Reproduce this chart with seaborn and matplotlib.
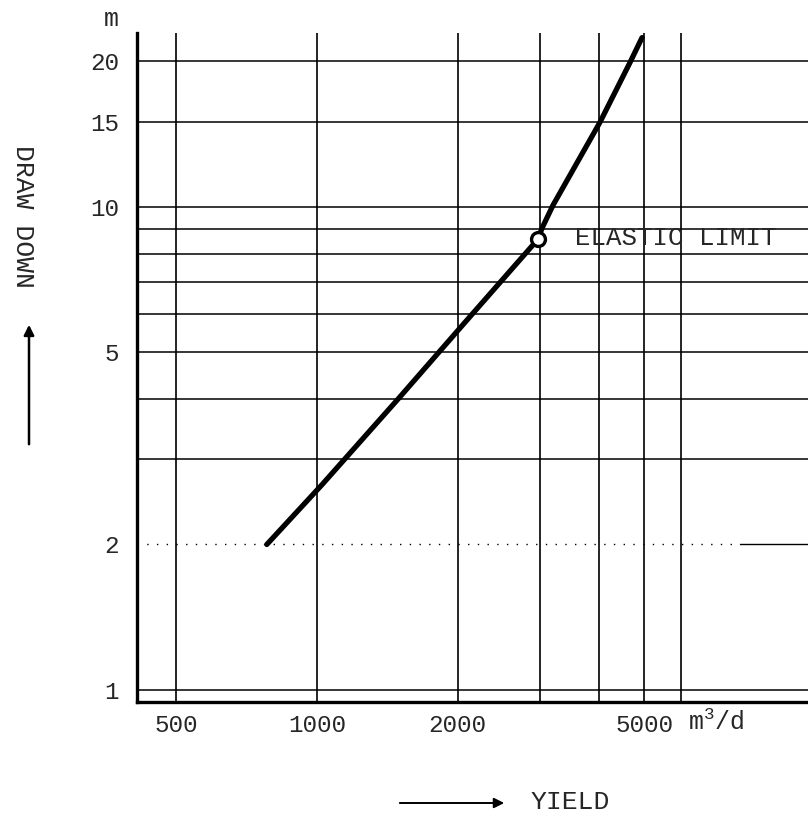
import matplotlib
matplotlib.use("Agg")
import matplotlib.pyplot as plt
import matplotlib.ticker as mticker
import seaborn as sns
import pandas as pd

# ---- data ----
yield_m3d = [782, 1026, 1498, 2022, 2968, 3027, 3196, 4025, 4667, 4951]
drawdown_m = [2.0, 2.66, 4.02, 5.61, 8.57, 9.03, 10.08, 14.96, 19.9, 22.4]
elastic_yield = [2968]
elastic_draw = [8.57]

x_grid = [500, 1000, 2000, 3000, 4000, 5000, 6000]
x_tick_vals = [500, 1000, 2000, 5000]
x_tick_labels = ["500", "1000", "2000", "5000"]
y_grid = [1, 3, 4, 5, 6, 7, 8, 9, 10, 15, 20]
y_dotted = [2]
y_tick_vals = [1, 2, 5, 10, 15, 20]
y_tick_labels = ["1", "2", "5", "10", "15", "20"]

sns.set_style("white")
plt.rcParams["font.family"] = ["Liberation Mono", "DejaVu Sans Mono"]
plt.rcParams["mathtext.fontset"] = "custom"
plt.rcParams["mathtext.rm"] = "Liberation Mono"
plt.rcParams["mathtext.default"] = "regular"

fig = plt.figure(figsize=(8.08, 8.18), dpi=100)
ax = fig.add_axes([137/808, 1-702/818, (808-137)/808, (702-33)/818])

ax.set_xscale("log")
ax.set_yscale("log")
ax.set_xlim(413, 11200)
ax.set_ylim(0.944, 22.9)

for xv in x_grid:
    ax.axvline(xv, color="black", lw=1.2, zorder=1)
for yv in y_grid:
    ax.axhline(yv, color="black", lw=1.1, zorder=1)
for yv in y_dotted:
    ax.plot([413, 8000], [yv, yv], color="black", lw=1.0, ls=(0, (1, 6)), zorder=1)
    ax.plot([8000, 11200], [yv, yv], color="black", lw=1.0, zorder=1)

df = pd.DataFrame({"yield": yield_m3d, "draw": drawdown_m})
sns.lineplot(data=df, x="yield", y="draw", ax=ax, color="black", lw=3.8,
             estimator=None, sort=False, zorder=3)
ax.plot(elastic_yield, elastic_draw, "o", ms=10, mfc="white", mec="black", mew=2.4, zorder=4)
ax.text(3560, 8.6, "ELASTIC LIMIT", fontsize=18.5, va="center", ha="left", zorder=5)

ax.xaxis.set_major_locator(mticker.FixedLocator(x_tick_vals))
ax.xaxis.set_major_formatter(mticker.FixedFormatter(x_tick_labels))
ax.xaxis.set_minor_locator(mticker.NullLocator())
ax.yaxis.set_major_locator(mticker.FixedLocator(y_tick_vals))
ax.yaxis.set_major_formatter(mticker.FixedFormatter(y_tick_labels))
ax.yaxis.set_minor_locator(mticker.NullLocator())
ax.tick_params(axis="both", length=0, labelsize=17.5)
ax.tick_params(axis="x", pad=9)
ax.tick_params(axis="y", pad=13)
ax.set_xlabel("")
ax.set_ylabel("")

for s in ["top", "right"]:
    ax.spines[s].set_visible(False)
for s in ["left", "bottom"]:
    ax.spines[s].set_linewidth(2.4)
    ax.spines[s].set_color("black")

fig.text(111/808, 1-19/818, "m", fontsize=18, ha="center", va="center")
fig.text(688/808, 1-722/818, r"m$^{3}$/d", fontsize=18, ha="left", va="center")
fig.text(23/808, 1-216/818, "DRAW DOWN", fontsize=19, rotation=-90, ha="center", va="center")
fig.text(530/808, 1-802/818, "YIELD", fontsize=19, ha="left", va="center")
fig.patches.append(matplotlib.patches.FancyArrowPatch(
    (29/808, 1-447/818), (29/808, 1-322/818), transform=fig.transFigure,
    arrowstyle="-|>,head_length=6,head_width=3", color="black", lw=1.8))
fig.patches.append(matplotlib.patches.FancyArrowPatch(
    (397/808, 1-803/818), (507/808, 1-803/818), transform=fig.transFigure,
    arrowstyle="-|>,head_length=6,head_width=3", color="black", lw=1.4))

fig.savefig("out.png", dpi=100)
